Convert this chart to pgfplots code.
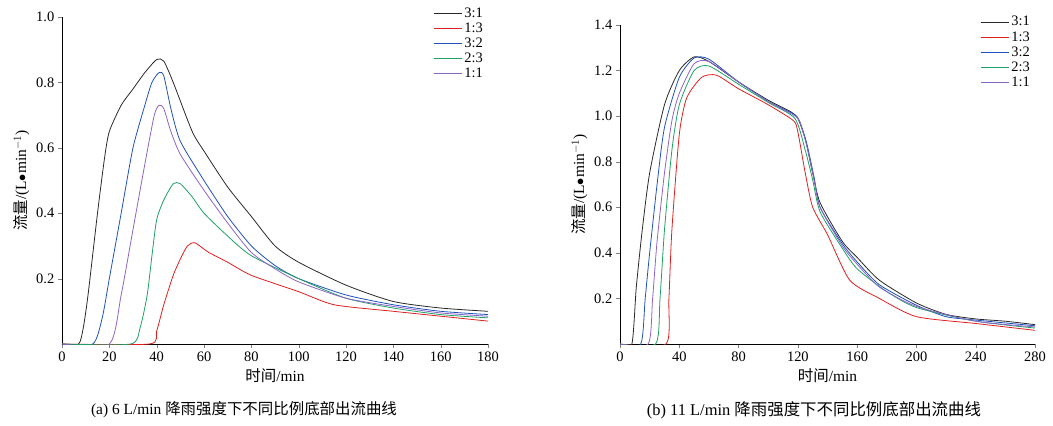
\documentclass[border=0pt]{standalone}
\usepackage{pgfplots}
\pgfplotsset{compat=1.18}
\usepackage{fontspec}
\setmainfont{Liberation Serif}
\newfontfamily\cjk{Noto Sans CJK SC}
\definecolor{cA}{RGB}{40,40,40}
\definecolor{cB}{RGB}{225,30,30}
\definecolor{cC}{RGB}{30,80,190}
\definecolor{cD}{RGB}{30,160,100}
\definecolor{cE}{RGB}{140,100,200}
\pgfplotsset{every axis/.style={
  scale only axis, axis lines*=left, tick align=outside,
  tick label style={font=\fontsize{14.5}{15}\selectfont},
  label style={font=\fontsize{15.5}{16}\selectfont},
  /pgf/number format/assume math mode=true,
  legend style={draw=none, fill=none, font=\fontsize{14.5}{15}\selectfont, at={(1,1.04)}, anchor=north east, row sep=0pt},
  legend cell align=left,
  legend image code/.code={\draw[#1,line width=0.8pt] (0,0) -- (1.0cm,0);},
  every axis plot/.append style={line width=0.8pt, smooth, tension=0.4},
  yticklabel style={/pgf/number format/fixed,/pgf/number format/precision=1,/pgf/number format/fixed zerofill},
}}
\begin{document}
\begin{tikzpicture}[x=1bp,y=1bp]
\useasboundingbox (-62,-81) rectangle (991,344);
\begin{axis}[at={(0,0)},width=426bp,height=327bp,xmin=0,xmax=180,ymin=0,ymax=1.0,
  xtick={0,20,...,180},ytick={0.2,0.4,0.6,0.8,1.0},
  xticklabel style={/pgf/number format/precision=0,/pgf/number format/fixed zerofill=false},
  xlabel={{\cjk 时间}/min},ylabel={{\cjk 流量}/(L$\bullet$min$^{-1}$)}]
\addplot[cA] coordinates {(0,0)(7,0)(9,0.05)(11,0.15)(15,0.4)(18,0.57)(20,0.65)(25,0.73)(30,0.78)(35,0.83)(40,0.87)(43,0.865)(47,0.8)(55,0.65)(60,0.59)(70,0.48)(80,0.39)(90,0.3)(100,0.25)(120,0.18)(140,0.13)(160,0.11)(180,0.1)};
\addplot[cB] coordinates {(0,0)(37,0)(40,0.04)(43,0.12)(47,0.21)(50,0.26)(53,0.3)(56,0.31)(60,0.29)(62,0.28)(70,0.25)(80,0.21)(100,0.16)(115,0.12)(140,0.1)(160,0.085)(180,0.07)};
\addplot[cC] coordinates {(0,0)(13,0)(17,0.08)(20,0.2)(25,0.4)(30,0.6)(35,0.73)(38,0.8)(41,0.83)(43,0.82)(46,0.72)(50,0.62)(60,0.5)(70,0.39)(80,0.3)(90,0.24)(100,0.2)(120,0.15)(140,0.12)(160,0.1)(180,0.09)};
\addplot[cD] coordinates {(0,0)(29,0)(33,0.05)(36,0.15)(38,0.27)(40,0.38)(43,0.44)(47,0.49)(50,0.49)(55,0.45)(60,0.4)(70,0.33)(80,0.27)(100,0.2)(120,0.14)(140,0.11)(160,0.09)(180,0.08)};
\addplot[cE] coordinates {(0,0)(20,0)(25,0.15)(30,0.35)(35,0.55)(39,0.7)(41,0.73)(43,0.72)(46,0.65)(50,0.58)(60,0.47)(70,0.37)(80,0.28)(90,0.23)(100,0.19)(120,0.14)(140,0.115)(160,0.095)(180,0.085)};
\legend{3:1,1:3,3:2,2:3,1:1}
\end{axis}
\node[font=\fontsize{15.5}{16}\selectfont] at (182,-66) {(a) 6 L/min {\cjk 降雨强度下不同比例底部出流曲线}};
\begin{axis}[at={(558bp,0)},width=415bp,height=319bp,xmin=0,xmax=280,ymin=0,ymax=1.4,
  xtick={0,40,...,280},ytick={0.2,0.4,...,1.4},
  xticklabel style={/pgf/number format/precision=0,/pgf/number format/fixed zerofill=false},
  xlabel={{\cjk 时间}/min},ylabel={{\cjk 流量}/(L$\bullet$min$^{-1}$)}]
\addplot[cA] coordinates {(0,0)(8,0)(11,0.25)(15,0.5)(20,0.75)(30,1.05)(40,1.2)(50,1.26)(60,1.24)(80,1.15)(100,1.07)(115,1.02)(120,0.99)(125,0.9)(130,0.75)(135,0.62)(150,0.45)(160,0.38)(175,0.28)(200,0.18)(220,0.13)(240,0.11)(260,0.1)(280,0.085)};
\addplot[cB] coordinates {(0,0)(31,0)(33,0.2)(35,0.5)(40,0.92)(45,1.08)(55,1.17)(65,1.18)(80,1.12)(100,1.05)(117,0.98)(120,0.93)(125,0.75)(130,0.6)(140,0.48)(155,0.28)(175,0.2)(200,0.12)(240,0.09)(280,0.06)};
\addplot[cC] coordinates {(0,0)(14,0)(17,0.2)(20,0.4)(25,0.7)(30,0.95)(40,1.17)(50,1.255)(60,1.25)(80,1.15)(100,1.065)(117,1.01)(121,0.98)(126,0.88)(131,0.73)(135,0.6)(150,0.44)(160,0.36)(175,0.26)(200,0.17)(220,0.12)(240,0.105)(280,0.08)};
\addplot[cD] coordinates {(0,0)(24,0)(27,0.2)(30,0.5)(35,0.85)(40,1.05)(50,1.2)(60,1.22)(80,1.14)(100,1.06)(118,0.99)(125,0.85)(130,0.72)(135,0.58)(150,0.42)(160,0.33)(180,0.23)(200,0.16)(240,0.1)(280,0.07)};
\addplot[cE] coordinates {(0,0)(19,0)(22,0.2)(25,0.45)(30,0.75)(35,0.98)(40,1.1)(50,1.23)(60,1.24)(80,1.15)(100,1.065)(117,1.005)(121,0.98)(126,0.87)(131,0.72)(135,0.6)(150,0.43)(160,0.35)(175,0.25)(200,0.165)(240,0.1)(280,0.075)};
\legend{3:1,1:3,3:2,2:3,1:1}
\end{axis}
\node[font=\fontsize{16.5}{17}\selectfont] at (752,-66) {(b) 11 L/min {\cjk 降雨强度下不同比例底部出流曲线}};
\end{tikzpicture}
\end{document}
